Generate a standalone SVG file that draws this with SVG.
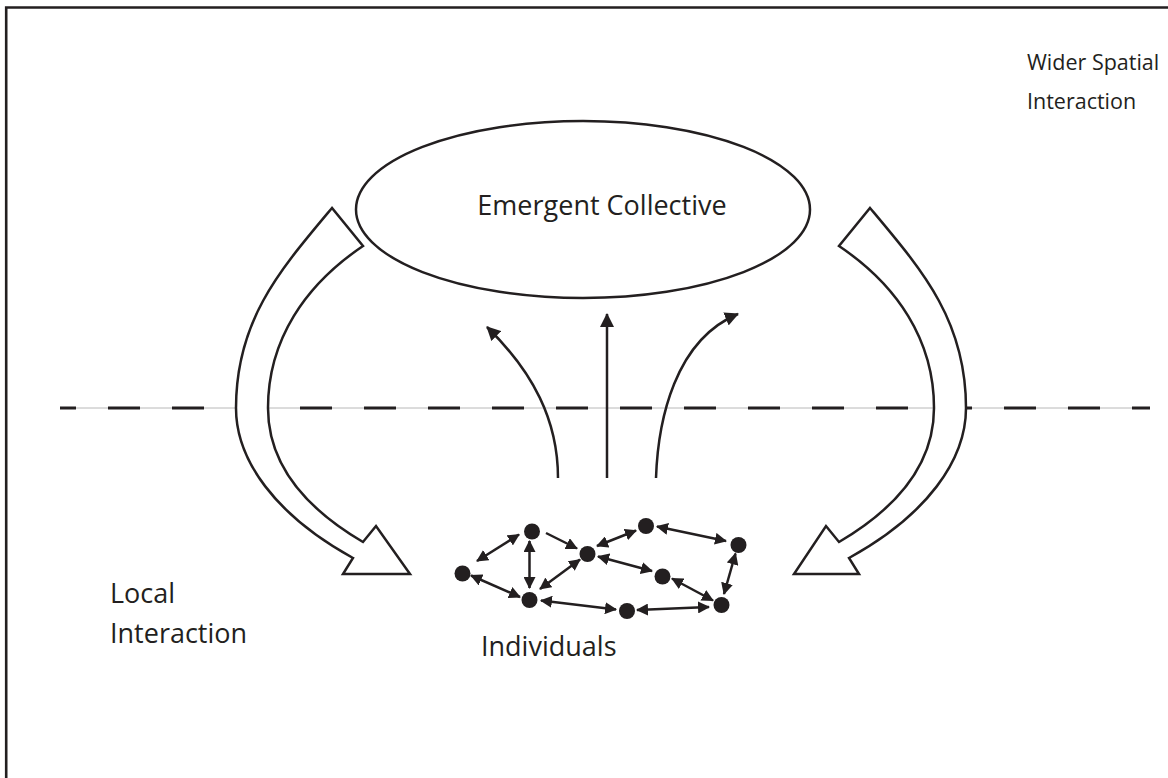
<svg xmlns="http://www.w3.org/2000/svg" width="1168" height="778" viewBox="0 0 1168 778">
<style>
.t{font-family:"Open Sans","Liberation Sans",sans-serif;font-size:27px;fill:#231f20}
.tr{font-family:"Open Sans","Liberation Sans",sans-serif;font-size:21.5px;fill:#231f20}
.big{fill:#fff;stroke:#231f20;stroke-width:2.5;stroke-linejoin:miter}
.c{fill:none;stroke:#231f20;stroke-width:2.5}
.up{fill:none;stroke:#231f20;stroke-width:2.5;marker-end:url(#ah)}
.d{fill:none;stroke:#231f20;stroke-width:2.5;marker-start:url(#sh);marker-end:url(#sh)}
.s{fill:none;stroke:#231f20;stroke-width:2.5;marker-end:url(#sh)}
.dot{fill:#231f20}
</style>
<defs>
<marker id="ah" markerUnits="userSpaceOnUse" markerWidth="14" markerHeight="14" viewBox="0 0 14 14" refX="13" refY="7" orient="auto-start-reverse"><path d="M0,0 L14,7 L0,14 Z" fill="#231f20"/></marker>
<marker id="sh" markerUnits="userSpaceOnUse" markerWidth="12" markerHeight="12" viewBox="0 0 12 12" refX="11" refY="6" orient="auto-start-reverse"><path d="M0,0 L12,6 L0,12 Z" fill="#231f20"/></marker>
</defs>
<rect width="1168" height="778" fill="#fff"/>
<path d="M6.2,800 L6.2,7.5 L1170,7.5" fill="none" stroke="#231f20" stroke-width="2.6"/>

<g id="divider">
<path d="M60,408 L1150,408" stroke="#b8b8b8" stroke-width="1" fill="none"/>
<path d="M60,408 L1150,408" stroke="#231f20" stroke-width="3" fill="none" stroke-dasharray="32 32" stroke-dashoffset="16"/>
</g>

<g id="collective">
<ellipse cx="583" cy="209.5" rx="227" ry="88.5" class="c"/>
<text class="t" x="602" y="215" text-anchor="middle">Emergent Collective</text>
</g>

<g id="feedback-left">
<path class="big" d="M332,208 C280,270 236,320 236,408 C236,460 275,515 353,558 L343,574 L410,574 L376,526 L363,542 C300,505 268,460 268,408 C268,340 305,285 363,246 Z"/>
</g>
<g id="feedback-right">
<path class="big" d="M870,208 C922,270 966,320 966,408 C966,460 927,515 849,558 L859,574 L794,574 L826,526 L839,542 C902,505 934,460 934,408 C934,340 897,285 839,246 Z"/>
</g>

<g id="label-wider">
<text class="tr" x="1027" y="70">Wider Spatial</text>
<text class="tr" x="1027" y="109">Interaction</text>
</g>
<g id="label-local">
<text class="t" x="110" y="603">Local</text>
<text class="t" x="110" y="643">Interaction</text>
</g>
<g id="label-individuals">
<text class="t" x="481" y="656">Individuals</text>
</g>

<g id="emergence-arrows">
<path class="up" d="M558,478 C558,420 533,372 487,327"/>
<path class="up" d="M607,478 L607,314"/>
<path class="up" d="M656,478 C658,420 675,340 738,314"/>
</g>

<g id="individuals">
<circle id="i1" class="dot" cx="532" cy="531.5" r="8"/>
<circle id="i2" class="dot" cx="462.5" cy="573.5" r="8"/>
<circle id="i3" class="dot" cx="529.5" cy="600" r="8"/>
<circle id="i4" class="dot" cx="587.5" cy="554" r="8"/>
<circle id="i5" class="dot" cx="646" cy="526" r="8"/>
<circle id="i6" class="dot" cx="738.5" cy="545" r="8"/>
<circle id="i7" class="dot" cx="662.5" cy="576.5" r="8"/>
<circle id="i8" class="dot" cx="721.5" cy="605" r="8"/>
<circle id="i9" class="dot" cx="627" cy="611" r="8"/>
</g>

<g id="connectors">
<path class="d" d="M477,561 L519,534.5"/>
<path class="d" d="M529.5,541 L529.5,588"/>
<path class="d" d="M471,575.5 L520,597"/>
<path class="s" d="M546,533 L577,548.5"/>
<path class="d" d="M580,559.5 L540,589"/>
<path class="d" d="M541,600.5 L616,609.5"/>
<path class="d" d="M597,546 L636,530.5"/>
<path class="d" d="M598,556.5 L652,571"/>
<path class="d" d="M657,526.5 L726,541"/>
<path class="d" d="M672,578.5 L713,600.5"/>
<path class="d" d="M735.5,553.5 L724,594"/>
<path class="d" d="M637,610 L709,607"/>
</g>
</svg>
